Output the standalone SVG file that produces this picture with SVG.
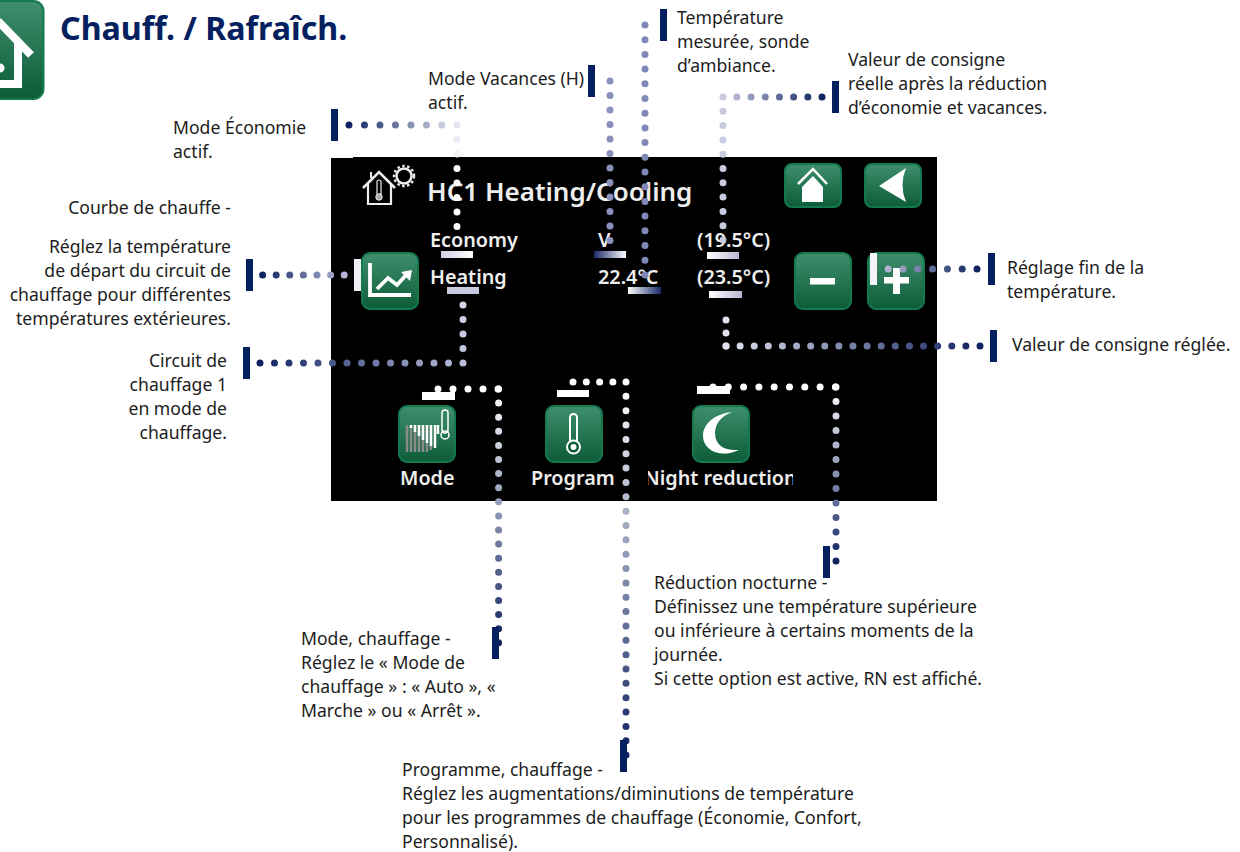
<svg xmlns="http://www.w3.org/2000/svg" width="1240" height="852" viewBox="0 0 1240 852">
<style>
text{font-family:"Noto Sans","Open Sans","DejaVu Sans",sans-serif}
.t{font-size:17.6px;fill:#1c1c1c}
.r{text-anchor:end}
.s{font-size:19.800px;font-weight:600;fill:#eee}
.b{stroke:#137a50;stroke-width:2;fill:url(#g)}
.d{fill:none;stroke-width:7;stroke-linecap:round}
.w{fill:none;stroke:#fff;stroke-linecap:butt}
.navy{fill:#04205f}
.wh{fill:#fff}
</style>
<defs>
<linearGradient id="g" x1="0" y1="0" x2="0" y2="1"><stop offset="0" stop-color="#3f8f6e"/><stop offset="1" stop-color="#0c5c38"/></linearGradient>
<linearGradient id="bN" x1="0" x2="1" y1="0" y2="0"><stop offset="0" stop-color="#1a2a6a"/><stop offset="1" stop-color="#fff"/></linearGradient>
<linearGradient id="bR" x1="0" x2="1" y1="0" y2="0"><stop offset="0" stop-color="#fff"/><stop offset="1" stop-color="#1a2a6a"/></linearGradient>
<linearGradient id="bL" x1="0" x2="1" y1="0" y2="0"><stop offset="0" stop-color="#d0d0e4"/><stop offset="1" stop-color="#fff"/></linearGradient>
<linearGradient id="bM" x1="0" x2="1" y1="0" y2="0"><stop offset="0" stop-color="#fff"/><stop offset="1" stop-color="#b8b8d6"/></linearGradient>
<linearGradient id="c1" gradientUnits="userSpaceOnUse" x1="349" y1="0" x2="457" y2="0"><stop offset="0" stop-color="#0e2260"/><stop offset="1" stop-color="#e4e4f0"/></linearGradient>
<linearGradient id="c2" gradientUnits="userSpaceOnUse" x1="0" y1="125" x2="0" y2="175"><stop offset="0" stop-color="#e4e4f0"/><stop offset="1" stop-color="#fff"/></linearGradient>
<linearGradient id="c3" gradientUnits="userSpaceOnUse" x1="262" y1="0" x2="344" y2="0"><stop offset="0" stop-color="#0e2260"/><stop offset="1" stop-color="#b4b8d4"/></linearGradient>
<linearGradient id="c4" gradientUnits="userSpaceOnUse" x1="260" y1="0" x2="463" y2="0"><stop offset="0" stop-color="#0e2260"/><stop offset="1" stop-color="#b8bcd8"/></linearGradient>
<linearGradient id="c5" gradientUnits="userSpaceOnUse" x1="0" y1="363" x2="0" y2="305"><stop offset="0" stop-color="#b8bcd8"/><stop offset="1" stop-color="#d4d6e8"/></linearGradient>
<linearGradient id="c6" gradientUnits="userSpaceOnUse" x1="822" y1="0" x2="723" y2="0"><stop offset="0" stop-color="#0e2260"/><stop offset="1" stop-color="#c8cae0"/></linearGradient>
<linearGradient id="c7" gradientUnits="userSpaceOnUse" x1="980" y1="0" x2="726" y2="0"><stop offset="0" stop-color="#0e2260"/><stop offset="1" stop-color="#e0e2f0"/></linearGradient>
<linearGradient id="c8" gradientUnits="userSpaceOnUse" x1="977" y1="0" x2="888" y2="0"><stop offset="0" stop-color="#0e2260"/><stop offset="1" stop-color="#b0b4d0"/></linearGradient>
<linearGradient id="c9" gradientUnits="userSpaceOnUse" x1="0" y1="389" x2="0" y2="643"><stop offset="0" stop-color="#fff"/><stop offset="1" stop-color="#0e2260"/></linearGradient>
<linearGradient id="c10" gradientUnits="userSpaceOnUse" x1="0" y1="382" x2="0" y2="757"><stop offset="0" stop-color="#fff"/><stop offset="1" stop-color="#0e2260"/></linearGradient>
<linearGradient id="c11" gradientUnits="userSpaceOnUse" x1="0" y1="387" x2="0" y2="562"><stop offset="0" stop-color="#fff"/><stop offset="1" stop-color="#0e2260"/></linearGradient>
<clipPath id="nr"><rect x="648" y="460" width="145" height="40"/></clipPath>
</defs>
<rect width="1240" height="852" fill="#fff"/>

<g id="screen">
<rect x="331" y="158" width="606" height="343" fill="#000"/>
<rect x="353" y="157" width="584" height="2" fill="#000"/>
<g id="screen-header" fill="none" stroke="#eee">
<path d="M363 188 379 172 395 188" stroke-width="2.600"/>
<path d="M371 178V172" stroke-width="2"/>
<path d="M368 184V204H391V184" stroke-width="2.200"/>
<rect x="377" y="180" width="4" height="15" rx="2" stroke-width="1.200"/>
<circle cx="379" cy="197" r="3.200" fill="#aaa" stroke-width="1"/>
<circle cx="404" cy="176" r="7.500" stroke-width="2.500"/>
<circle cx="404" cy="176" r="10" stroke-width="2.400" stroke-dasharray="2.500 2.500"/>
<text x="427" y="201" font-size="26" font-weight="600" fill="#eee" stroke="none">HC1 Heating/Cooling</text>
</g>
<text class="s" x="430" y="247">Economy</text>
<text class="s" x="430" y="284">Heating</text>
<text class="s" x="598" y="247">V</text>
<text class="s" x="598" y="284">22.4°C</text>
<text class="s" x="697" y="247">(19.5°C)</text>
<text class="s" x="697" y="284">(23.5°C)</text>
<text class="s" x="400" y="485">Mode</text>
<text class="s" x="531" y="485">Program</text>
<text class="s" x="644" y="485" clip-path="url(#nr)">Night reduction</text>
</g>

<g id="title">
<text x="60" y="40" font-size="32.200" font-weight="700" fill="#04205f">Chauff. / Rafraîch.</text>
</g>
<g id="app-icon">
<rect x="-60" y="1" width="103.500" height="98" rx="10" class="b"/>
<path d="M-2 21 31 55" class="w" stroke-width="8"/>
<path d="M18 43V84H-2" class="w" stroke-width="8"/>
<circle cx="0" cy="68" r="4.500" fill="#fff"/>
</g>

<g id="btn-chart">
<rect x="362" y="253" width="56" height="56" rx="8" class="b"/>
<path d="M370 263V295H411" class="w" stroke-width="3.800"/>
<path d="M377 289 388 278 397 285 407 274" class="w" stroke-width="3.800"/>
<path d="M401 272 412 270 410 281Z" fill="#fff"/>
</g>
<g id="btn-home">
<rect x="785" y="164" width="56" height="43" rx="7" class="b"/>
<path d="M798 184 813 169 827 184" class="w" stroke-width="2.500"/>
<path d="M802 187 813 176 823 187V202H802Z" fill="#fff"/>
</g>
<g id="btn-back">
<rect x="865" y="164" width="56" height="43" rx="7" class="b"/>
<path d="M879 186 906 168Q899 185 906 202Z" fill="#fff"/>
</g>
<g id="btn-minus">
<rect x="795" y="253" width="56" height="56" rx="8" class="b"/>
<rect x="810" y="278" width="25" height="6.500" fill="#fff"/>
</g>
<g id="btn-plus">
<rect x="868" y="253" width="56" height="56" rx="8" class="b"/>
<rect x="884" y="277" width="25" height="6.500" fill="#fff"/>
<rect x="893" y="268" width="7" height="26" fill="#fff"/>
</g>
<g id="btn-mode">
<rect x="399" y="406" width="56" height="56" rx="8" class="b"/>
<path d="M407 425V452M411 425V452M415 425V452M419 425V452M423 425V452M427 425V452M431 425V450" stroke="#8a8a8a" stroke-width="2.500" fill="none"/>
<path d="M411 425V428M415 425V432M419 425V436M423 425V440M427 425V443M431 425V446M435 425V448M438 425V434" stroke="#fff" stroke-width="2.500" fill="none"/>
<rect x="442" y="410" width="6" height="23" rx="3" fill="none" stroke="#fff" stroke-width="1.500"/>
<circle cx="445" cy="435" r="4" fill="none" stroke="#fff" stroke-width="1.500"/>
</g>
<g id="btn-program">
<rect x="546" y="406" width="56" height="56" rx="8" class="b"/>
<rect x="570" y="414" width="7" height="30" rx="3.500" fill="none" stroke="#fff" stroke-width="2"/>
<circle cx="573.500" cy="447" r="6.500" fill="#0c5c38" stroke="#fff" stroke-width="2"/>
<circle cx="573.500" cy="447" r="3" fill="#fff"/>
</g>
<g id="btn-night">
<rect x="693" y="406" width="56" height="56" rx="8" class="b"/>
<path d="M732 412C714 414 703 424 703 436 703 450 720 459 739 450 724 451 715 445 715 433 715 423 722 416 732 412Z" fill="#fff"/>
</g>

<g id="connectors">
<path class="d" stroke="url(#c1)" stroke-dasharray="0 15.500" d="M349 125H457"/>
<path class="d" stroke="url(#c2)" stroke-dasharray="0 14.500" d="M457 125V241"/>
<path class="d" stroke="url(#c3)" stroke-dasharray="0 13.600" d="M262.600 275H345"/>
<path class="d" stroke="url(#c4)" stroke-dasharray="0 14.500" d="M260 363H463"/>
<path class="d" stroke="url(#c5)" stroke-dasharray="0 14.500" d="M463 363V304"/>
<path class="d" stroke="#8a90bc" stroke-dasharray="0 14.500" d="M610 81V241"/>
<path class="d" stroke="#8088b8" stroke-dasharray="0 14.700" d="M645 25V277"/>
<path class="d" stroke="url(#c6)" stroke-dasharray="0 14.200" d="M822 97H723"/>
<path class="d" stroke="#c8cae0" stroke-dasharray="0 14.300" d="M723 97V241"/>
<path class="d" stroke="url(#c7)" stroke-dasharray="0 14.110" d="M980 346H726"/>
<path class="d" stroke="#e0e2f0" stroke-dasharray="0 13" d="M726 346V307"/>
<path class="d" stroke="url(#c8)" stroke-dasharray="0 14.800" d="M977 269H888"/>
<path class="d" stroke="url(#c9)" stroke-dasharray="0 15" d="M438 389H498.600"/>
<path class="d" stroke="url(#c9)" stroke-dasharray="0 14.100" d="M498.600 389V643"/>
<path class="d" stroke="url(#c10)" stroke-dasharray="0 13.300" d="M573 382H626"/>
<path class="d" stroke="url(#c10)" stroke-dasharray="0 14.350" d="M626 382V757"/>
<path class="d" stroke="url(#c11)" stroke-dasharray="0 15.300" d="M713 387H836"/>
<path class="d" stroke="url(#c11)" stroke-dasharray="0 14.500" d="M836 387V562"/>
</g>

<g id="markers">
<rect class="navy" x="331" y="109" width="7" height="32"/>
<rect class="navy" x="246" y="259" width="7" height="32"/>
<rect class="navy" x="243" y="347" width="7" height="32"/>
<rect class="navy" x="588" y="65" width="7" height="32"/>
<rect class="navy" x="660" y="9" width="7" height="32"/>
<rect class="navy" x="832" y="81" width="7" height="32"/>
<rect class="navy" x="988" y="253" width="7" height="32"/>
<rect class="navy" x="990" y="330" width="7" height="32"/>
<rect class="navy" x="492" y="627" width="7" height="32"/>
<rect class="navy" x="620" y="740" width="7" height="32"/>
<rect class="navy" x="823" y="546" width="7" height="32"/>
<rect x="354" y="259" width="7" height="32" fill="#eeeef6"/>
<rect x="870" y="253" width="7" height="32" fill="#f4f4fa"/>
<rect x="441" y="251" width="32" height="7" fill="url(#bL)"/>
<rect x="447" y="287" width="32" height="7" fill="#c8cae0"/>
<rect x="594" y="251" width="32" height="7" fill="url(#bN)"/>
<rect x="628" y="287" width="33" height="7" fill="url(#bR)"/>
<rect x="707" y="252" width="32" height="7" fill="url(#bM)"/>
<rect x="709" y="291" width="33" height="7" fill="url(#bM)"/>
<rect class="wh" x="422" y="392" width="33" height="8"/>
<rect class="wh" x="557" y="390" width="32" height="7"/>
<rect class="wh" x="697" y="386" width="33" height="8"/>
</g>

<g id="label-economy"><text class="t" x="173" y="134">Mode Économie</text><text class="t" x="173" y="158">actif.</text></g>
<g id="label-curve">
<text class="t r" x="231" y="214">Courbe de chauffe -</text>
<text class="t r" x="231" y="253">Réglez la température</text>
<text class="t r" x="231" y="277">de départ du circuit de</text>
<text class="t r" x="231" y="301">chauffage pour différentes</text>
<text class="t r" x="231" y="325">températures extérieures.</text>
</g>
<g id="label-circuit">
<text class="t r" x="227" y="367">Circuit de</text>
<text class="t r" x="227" y="391">chauffage 1</text>
<text class="t r" x="227" y="415">en mode de</text>
<text class="t r" x="227" y="439">chauffage.</text>
</g>
<g id="label-holiday"><text class="t" x="428" y="85">Mode Vacances (H)</text><text class="t" x="428" y="109">actif.</text></g>
<g id="label-measured">
<text class="t" x="677" y="24">Température</text>
<text class="t" x="677" y="48">mesurée, sonde</text>
<text class="t" x="677" y="72">d’ambiance.</text>
</g>
<g id="label-real">
<text class="t" x="848" y="66">Valeur de consigne</text>
<text class="t" x="848" y="90">réelle après la réduction</text>
<text class="t" x="848" y="114">d’économie et vacances.</text>
</g>
<g id="label-fine">
<text class="t" x="1007" y="274">Réglage fin de la</text>
<text class="t" x="1007" y="298">température.</text>
</g>
<g id="label-setpoint"><text class="t" x="1012" y="351">Valeur de consigne réglée.</text></g>
<g id="label-night">
<text class="t" x="654" y="589">Réduction nocturne -</text>
<text class="t" x="654" y="613">Définissez une température supérieure</text>
<text class="t" x="654" y="637">ou inférieure à certains moments de la</text>
<text class="t" x="654" y="661">journée.</text>
<text class="t" x="654" y="685">Si cette option est active, RN est affiché.</text>
</g>
<g id="label-mode">
<text class="t" x="301" y="645">Mode, chauffage -</text>
<text class="t" x="301" y="669">Réglez le « Mode de</text>
<text class="t" x="301" y="693">chauffage » : « Auto », «</text>
<text class="t" x="301" y="717">Marche » ou « Arrêt ».</text>
</g>
<g id="label-program">
<text class="t" x="402" y="776">Programme, chauffage -</text>
<text class="t" x="402" y="800">Réglez les augmentations/diminutions de température</text>
<text class="t" x="402" y="824">pour les programmes de chauffage (Économie, Confort,</text>
<text class="t" x="402" y="848">Personnalisé).</text>
</g>
</svg>
